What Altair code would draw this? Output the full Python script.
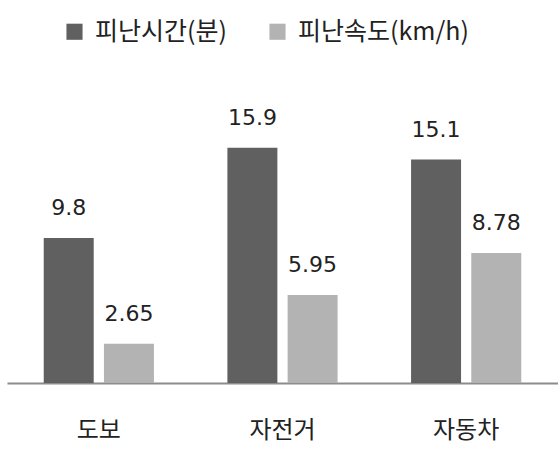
import altair as alt
import pandas as pd

categories = ["도보", "자전거", "자동차"]
series_names = ["피난시간(분)", "피난속도(km/h)"]
time_values = [9.8, 15.9, 15.1]
speed_values = [2.65, 5.95, 8.78]
time_labels = ["9.8", "15.9", "15.1"]
speed_labels = ["2.65", "5.95", "8.78"]

rows = []
for i, c in enumerate(categories):
    rows.append({"cat": c, "series": series_names[0], "value": time_values[i], "label": time_labels[i]})
    rows.append({"cat": c, "series": series_names[1], "value": speed_values[i], "label": speed_labels[i]})
df = pd.DataFrame(rows)

x = alt.X("cat:N", sort=categories, title=None,
          scale=alt.Scale(paddingInner=0.4, paddingOuter=0.2),
          axis=alt.Axis(labelAngle=0, labelFont="Noto Sans CJK KR", labelFontSize=24,
                        labelColor="#222222", labelPadding=35, ticks=False,
                        domainColor="#8c8c8c", domainWidth=2, grid=False))
xo = alt.XOffset("series:N", sort=series_names,
                 scale=alt.Scale(paddingInner=0.17, paddingOuter=0))
y = alt.Y("value:Q", scale=alt.Scale(domain=[0, 20], nice=False), axis=None)

bars = alt.Chart(df).mark_bar().encode(
    x=x, xOffset=xo, y=y,
    color=alt.Color("series:N", sort=series_names, title=None,
                    scale=alt.Scale(domain=series_names, range=["#606060", "#b3b3b3"]),
                    legend=alt.Legend(orient="none", legendX=55, legendY=-68,
                                      direction="horizontal", symbolType="square",
                                      symbolSize=260, symbolStrokeWidth=0,
                                      labelFont="Noto Sans CJK KR", labelFontSize=25,
                                      labelColor="#222222", labelOffset=8,
                                      labelLimit=0, columnPadding=38)),
)

texts = alt.Chart(df).mark_text(baseline="bottom", dy=-18, font="DejaVu Sans",
                                fontSize=22, color="#222222").encode(
    x=x, xOffset=xo, y=y, text="label:N"
)

chart = (bars + texts).properties(
    width=551, height=296,
    autosize=alt.AutoSizeParams(type="none"),
    padding={"left": 7, "top": 87, "right": 0, "bottom": 88},
).configure_view(stroke=None)

chart.save("out.html", embed_options={"renderer": "svg", "actions": False})
